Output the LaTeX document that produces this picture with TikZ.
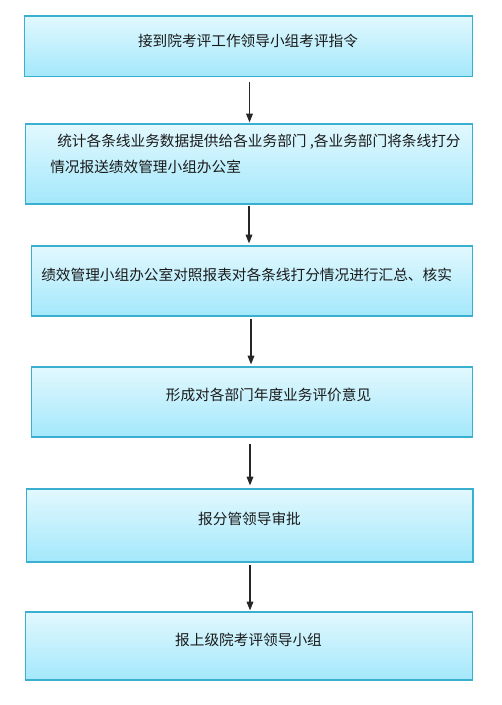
\documentclass[tikz,border=0pt]{standalone}
\usepackage{fontspec}
\setmainfont{Noto Sans CJK SC}
\usetikzlibrary{arrows.meta,calc}
\definecolor{boxtop}{HTML}{E2F8FE}
\definecolor{boxbot}{HTML}{A3E8FB}
\definecolor{boxline}{HTML}{3AAFCF}
\definecolor{txtcol}{HTML}{1A1A1A}
\tikzset{
  flowbox/.style={draw=boxline, line width=0.9pt, top color=boxtop, bottom color=boxbot,
    rectangle, inner sep=0pt, anchor=center},
  lbl/.style={font=\fontsize{11pt}{13pt}\selectfont, text=txtcol, inner sep=0pt},
  arr/.style={draw=black!85, line width=0.8pt, -{Triangle[width=5pt,length=6.5pt]}}
}
\begin{document}
\begin{tikzpicture}[x=0.75pt,y=-0.75pt]
\useasboundingbox (0,0) rectangle (502,705);
\node[flowbox, minimum width=448*0.75pt, minimum height=60.5*0.75pt] (b1) at (248.5,46.25) {};
\node[flowbox, minimum width=447*0.75pt, minimum height=80*0.75pt] (b2) at (249,164) {};
\node[flowbox, minimum width=441*0.75pt, minimum height=70*0.75pt] (b3) at (252,281) {};
\node[flowbox, minimum width=441*0.75pt, minimum height=70*0.75pt] (b4) at (252,402) {};
\node[flowbox, minimum width=446.5*0.75pt, minimum height=73*0.75pt] (b5) at (249.75,525.5) {};
\node[flowbox, minimum width=447*0.75pt, minimum height=68*0.75pt] (b6) at (249,646) {};

\node[lbl] (t1) at (248,41) {接到院考评工作领导小组考评指令};
\node[lbl, anchor=west] (t2a) at (57,142) {统计各条线业务数据提供给各业务部门 ,各业务部门将条线打分};
\node[lbl, anchor=west] (t2b) at (50,167) {情况报送绩效管理小组办公室};
\node[lbl, anchor=west] (t3) at (41,275) {绩效管理小组办公室对照报表对各条线打分情况进行汇总、核实};
\node[lbl] (t4) at (268.5,395) {形成对各部门年度业务评价意见};
\node[lbl] (t5) at (249.5,519) {报分管领导审批};
\node[lbl] (t6) at (248.5,640) {报上级院考评领导小组};

\draw[arr] ($(b1.south)+(1,4.5)$) -- ($(b2.north)+(0.5,-1)$);
\draw[arr] ($(b2.south)+(0,1)$) -- ($(b3.north)+(-3,-2)$);
\draw[arr] ($(b3.south)+(-1,2)$) -- ($(b4.north)+(-1,-2)$);
\draw[arr] ($(b4.south)+(-2,6)$) -- ($(b5.north)+(0.25,-3)$);
\draw[arr] ($(b5.south)+(0.25,2)$) -- ($(b6.north)+(1,-1)$);
\end{tikzpicture}
\end{document}
